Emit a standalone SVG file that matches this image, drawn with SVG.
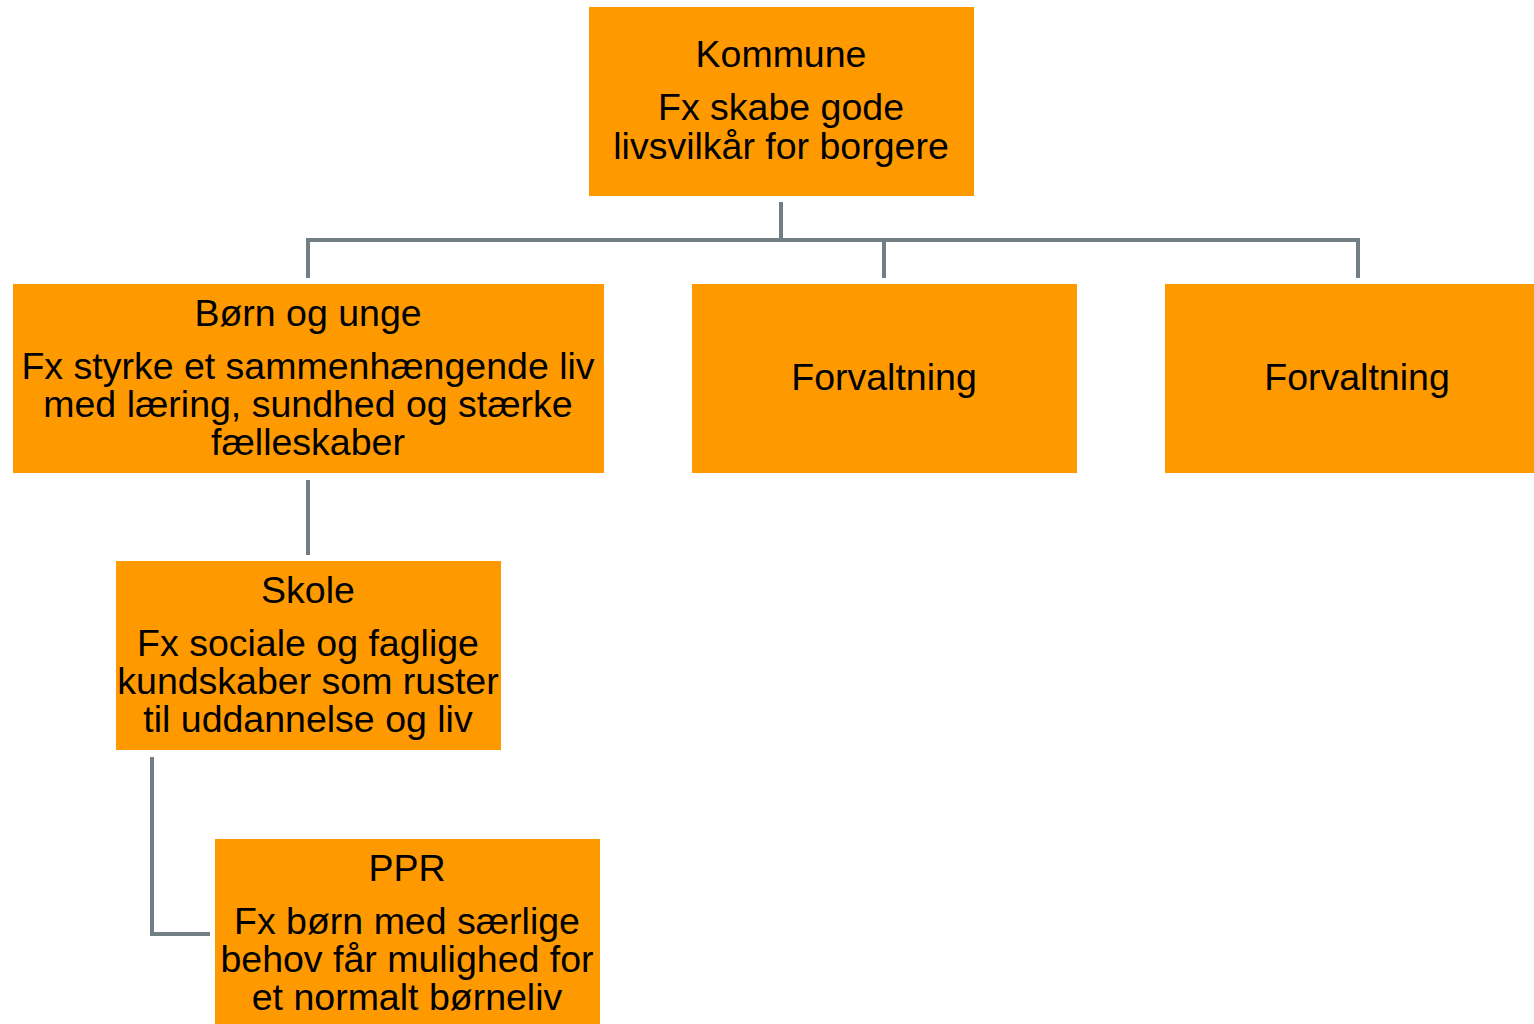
<svg xmlns="http://www.w3.org/2000/svg" width="1534" height="1024" viewBox="0 0 1534 1024">
<style>
.box{fill:#FF9900;}
.t{font-family:"Liberation Sans",Arial,sans-serif;font-size:37.5px;fill:#000;text-anchor:middle;}
.c{fill:none;stroke:#737D84;stroke-width:4;}
</style>
<rect width="1534" height="1024" fill="#fff"/>
<g id="connectors">
<path class="c" d="M781 202V240"/>
<path class="c" d="M308 278V240H1358V278"/>
<path class="c" d="M884 240V278"/>
<path class="c" d="M308 480V555"/>
<path class="c" d="M152 757V934H210"/>
</g>
<g id="kommune">
<rect class="box" x="589" y="7" width="385" height="189"/>
<text class="t" x="781" y="67">Kommune</text>
<text class="t" x="781" y="120">Fx skabe gode</text>
<text class="t" x="781" y="159">livsvilkår for borgere</text>
</g>
<g id="born">
<rect class="box" x="13" y="284" width="591" height="189"/>
<text class="t" x="308" y="326">Børn og unge</text>
<text class="t" x="308" y="379">Fx styrke et sammenhængende liv</text>
<text class="t" x="308" y="417">med læring, sundhed og stærke</text>
<text class="t" x="308" y="455">fælleskaber</text>
</g>
<g id="forv1">
<rect class="box" x="692" y="284" width="385" height="189"/>
<text class="t" x="884" y="390">Forvaltning</text>
</g>
<g id="forv2">
<rect class="box" x="1165" y="284" width="369" height="189"/>
<text class="t" x="1357" y="390">Forvaltning</text>
</g>
<g id="skole">
<rect class="box" x="116" y="561" width="385" height="189"/>
<text class="t" x="308" y="603">Skole</text>
<text class="t" x="308" y="656">Fx sociale og faglige</text>
<text class="t" x="308" y="694">kundskaber som ruster</text>
<text class="t" x="308" y="732">til uddannelse og liv</text>
</g>
<g id="ppr">
<rect class="box" x="215" y="839" width="385" height="189"/>
<text class="t" x="407" y="881">PPR</text>
<text class="t" x="407" y="934">Fx børn med særlige</text>
<text class="t" x="407" y="972">behov får mulighed for</text>
<text class="t" x="407" y="1010">et normalt børneliv</text>
</g>
</svg>
